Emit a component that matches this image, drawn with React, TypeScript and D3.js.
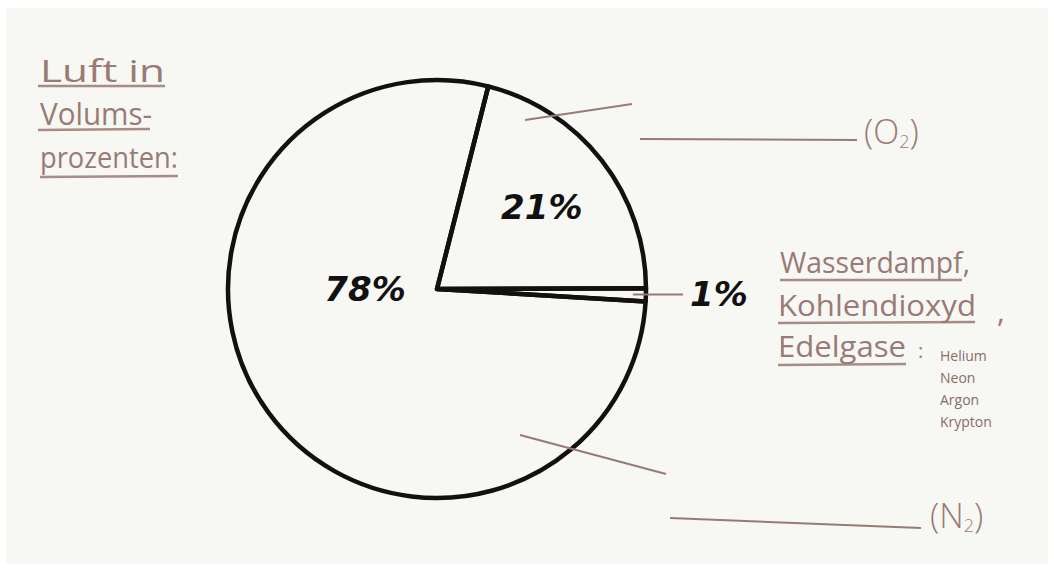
import React from "react";
import * as d3 from "d3";

// ---- data ----
const sliceNames = ["Sauerstoff (O₂)", "Rest", "Stickstoff (N₂)"];
const sliceValues = [21, 1, 78];
const sliceLabels = ["21%", "1%", "78%"];
const titleLines = ["Luft in", "Volums-", "prozenten:"];
const restLines = ["Wasserdampf,", "Kohlendioxyd", "Edelgase"];
const nobleGases = ["Helium", "Neon", "Argon", "Krypton"];

const W = 1054;
const H = 570;
const cx = 437;
const cy = 289;
const R = 209;
const ink = "#111";
const pencil = "#9a7a74";
const hand = "'Open Sans', 'DejaVu Sans', sans-serif";

export default function App() {
  const deg = Math.PI / 180;
  const pie = d3
    .pie<number>()
    .sort(null)
    .value((d) => d)
    .startAngle(14.2 * deg)
    .endAngle((14.2 + 360) * deg);
  const arcs = pie(sliceValues);
  const arcGen = d3.arc<d3.PieArcDatum<number>>().innerRadius(0).outerRadius(R);

  const o2 = arcs[0];
  const rest = arcs[1];
  const o2Label = d3.pointRadial((o2.startAngle + o2.endAngle) / 2, 133);
  const n2Label = d3.pointRadial(270 * deg, 72);
  const restMid = (rest.startAngle + rest.endAngle) / 2;
  const restIn = d3.pointRadial(restMid, 196);

  return (
    <svg
      width={W}
      height={H}
      style={{ position: "fixed", left: 0, top: 0, background: "#ffffff" }}
    >
      <rect x={6} y={8} width={W - 12} height={H - 14} fill="#f7f7f4" />

      {/* title */}
      <g fill={pencil} fontFamily={hand} fontWeight={400}>
        <text x={40} y={82} fontSize={31} textLength={125} lengthAdjust="spacingAndGlyphs">
          {titleLines[0]}
        </text>
        <text x={40} y={125} fontSize={31} textLength={112} lengthAdjust="spacingAndGlyphs">
          {titleLines[1]}
        </text>
        <text x={40} y={168} fontSize={29} textLength={138} lengthAdjust="spacingAndGlyphs">
          {titleLines[2]}
        </text>
      </g>
      <g stroke={pencil} strokeWidth={2.5} opacity={0.85}>
        <line x1={38} y1={86} x2={165} y2={86} />
        <line x1={38} y1={130} x2={150} y2={129} />
        <line x1={40} y1={177} x2={178} y2={176} />
      </g>

      {/* pie */}
      <g transform={`translate(${cx},${cy})`}>
        {arcs.map((a, i) => (
          <path
            key={sliceNames[i]}
            d={arcGen(a) || ""}
            fill="none"
            stroke={ink}
            strokeWidth={4.5}
            strokeLinejoin="round"
          />
        ))}
        <text
          x={o2Label[0]}
          y={o2Label[1]}
          fontFamily="'DejaVu Sans', sans-serif"
          fontWeight="bold"
          fontStyle="italic"
          fontSize={34}
          fill={ink}
          textAnchor="middle"
          dominantBaseline="central"
        >
          {sliceLabels[0]}
        </text>
        <text
          x={n2Label[0]}
          y={n2Label[1]}
          fontFamily="'DejaVu Sans', sans-serif"
          fontWeight="bold"
          fontStyle="italic"
          fontSize={34}
          fill={ink}
          textAnchor="middle"
          dominantBaseline="central"
        >
          {sliceLabels[2]}
        </text>
        <line
          x1={restIn[0]}
          y1={restIn[1]}
          x2={683 - cx}
          y2={restIn[1]}
          stroke={pencil}
          strokeWidth={2}
        />
        <text
          x={690 - cx}
          y={restIn[1]}
          fontFamily="'DejaVu Sans', sans-serif"
          fontWeight="bold"
          fontStyle="italic"
          fontSize={34}
          fill={ink}
          dominantBaseline="central"
        >
          {sliceLabels[1]}
        </text>
      </g>

      {/* O2 / N2 annotations */}
      <g stroke={pencil} strokeWidth={2}>
        <line x1={525} y1={120} x2={632} y2={104} />
        <line x1={640} y1={139} x2={857} y2={140} />
        <line x1={520} y1={435} x2={666} y2={474} />
        <line x1={670} y1={518} x2={921} y2={528} />
      </g>
      <text x={864} y={144} fill={pencil} fontFamily={hand} fontWeight={300} fontSize={34}>
        (O<tspan fontSize={18} dy={4}>2</tspan>
        <tspan dy={-4}>)</tspan>
      </text>
      <text x={930} y={528} fill={pencil} fontFamily={hand} fontWeight={300} fontSize={34}>
        (N<tspan fontSize={18} dy={4}>2</tspan>
        <tspan dy={-4}>)</tspan>
      </text>

      {/* rest legend */}
      <g fill={pencil} fontFamily={hand} fontWeight={400}>
        <text x={780} y={273} fontSize={30} textLength={190} lengthAdjust="spacingAndGlyphs">
          {restLines[0]}
        </text>
        <text x={778} y={316} fontSize={30} textLength={198} lengthAdjust="spacingAndGlyphs">
          {restLines[1]}
        </text>
        <text x={997} y={322} fontSize={30}>,</text>
        <text x={778} y={357} fontSize={30} textLength={128} lengthAdjust="spacingAndGlyphs">
          {restLines[2]}
        </text>
        <text x={918} y={358} fontSize={20}>:</text>
        {nobleGases.map((g, i) => (
          <text key={g} x={940} y={361 + i * 22} fontSize={14} fill="#8a6c68">
            {g}
          </text>
        ))}
      </g>
      <g stroke={pencil} strokeWidth={2.5} opacity={0.85}>
        <line x1={780} y1={280} x2={962} y2={280} />
        <line x1={778} y1={323} x2={975} y2={322} />
        <line x1={778} y1={365} x2={906} y2={364} />
      </g>
    </svg>
  );
}
